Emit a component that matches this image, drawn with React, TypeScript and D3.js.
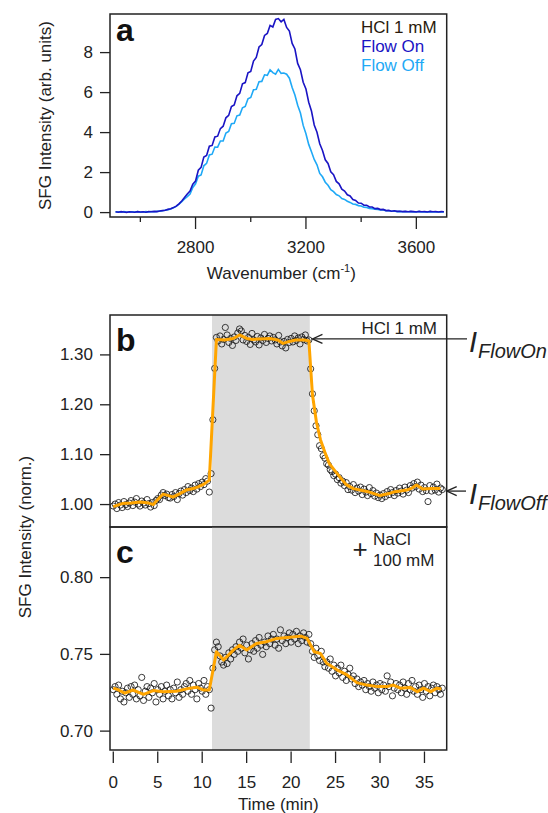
import React from 'react';
import * as d3 from 'd3';

// ---------- Panel a: SFG spectra ----------
const waveStart = 2510;
const waveStep = 10;
const flowOn = [
  0.04, 0.02, 0.05, 0.03, 0.01, 0.04, 0.03, 0.02, 0.05, 0.03,
  0.04, 0.02, 0.05, 0.04, 0.06, 0.05, 0.08, 0.10, 0.12, 0.16,
  0.19, 0.25, 0.32, 0.44, 0.58, 0.76, 0.93, 1.08, 1.42, 1.58,
  2.12, 2.26, 2.78, 2.86, 3.32, 3.36, 3.78, 3.82, 4.20, 4.32,
  4.74, 4.86, 5.30, 5.38, 5.84, 5.96, 6.44, 6.50, 6.99, 7.06,
  7.58, 7.76, 8.28, 8.40, 8.86, 8.96, 9.36, 9.28, 9.66, 9.70,
  9.54, 9.66, 9.26, 9.08, 8.46, 8.18, 7.46, 7.14, 6.52, 6.18,
  5.52, 5.08, 4.38, 4.02, 3.44, 3.11, 2.64, 2.46, 2.04, 1.90,
  1.56, 1.44, 1.17, 1.08, 0.89, 0.83, 0.65, 0.61, 0.48, 0.47,
  0.37, 0.37, 0.28, 0.28, 0.20, 0.21, 0.15, 0.16, 0.10, 0.11,
  0.07, 0.09, 0.06, 0.07, 0.05, 0.06, 0.04, 0.06, 0.05, 0.03,
  0.06, 0.04, 0.05, 0.03, 0.06, 0.04, 0.05, 0.03, 0.05, 0.04,
];
const flowOff = [
  0.03, 0.04, 0.02, 0.05, 0.03, 0.02, 0.04, 0.03, 0.05, 0.02,
  0.03, 0.05, 0.03, 0.05, 0.04, 0.06, 0.07, 0.09, 0.12, 0.15,
  0.18, 0.24, 0.31, 0.42, 0.55, 0.68, 0.80, 0.93, 1.26, 1.44,
  1.82, 1.88, 2.34, 2.46, 2.88, 2.92, 3.28, 3.27, 3.58, 3.58,
  3.98, 4.06, 4.44, 4.46, 4.84, 4.88, 5.24, 5.31, 5.69, 5.76,
  6.14, 6.16, 6.54, 6.56, 6.89, 6.86, 7.14, 7.00, 6.92, 7.16,
  6.96, 6.98, 6.92, 6.72, 6.26, 5.88, 5.37, 4.98, 4.36, 3.94,
  3.41, 3.04, 2.66, 2.39, 1.96, 1.79, 1.52, 1.37, 1.15, 1.05,
  0.90, 0.84, 0.70, 0.66, 0.57, 0.51, 0.43, 0.41, 0.35, 0.33,
  0.27, 0.26, 0.21, 0.20, 0.17, 0.16, 0.13, 0.13, 0.10, 0.09,
  0.07, 0.08, 0.05, 0.06, 0.04, 0.05, 0.04, 0.05, 0.03, 0.04,
  0.05, 0.03, 0.04, 0.03, 0.05, 0.03, 0.04, 0.03, 0.04, 0.03,
];
const aYTicks = [0, 2, 4, 6, 8];
const aXMajor = [2800, 3200, 3600];
const aXMinor = [2600, 3000, 3400];
const legendLabels = ['HCl 1 mM', 'Flow On', 'Flow Off'];

// ---------- Panels b, c: time traces ----------
const timeStep = 0.2; // min, sampling grid
const flowBand = [11.1, 22.1];
const scatterB = [
  0.997, 1.001, 0.992, 1.004, 0.999, 0.994, 1.006, 1.000, 0.996, 1.003,
  1.008, 0.998, 1.005, 1.012, 1.001, 0.997, 1.007, 1.003, 0.999, 1.010,
  1.002, 0.995, 1.004, 0.998, 1.008, 1.012, 1.010, 1.019, 1.024, 1.018,
  1.021, 1.014, 1.013, 1.020, 1.016, 1.024, 1.010, 1.022, 1.027, 1.019,
  1.030, 1.024, 1.036, 1.028, 1.033, 1.026, 1.039, 1.031, 1.042, 1.036,
  1.045, 1.040, 1.052, 1.047, 1.025, 1.062, 1.170, 1.273, 1.335, 1.328,
  1.338, 1.322, 1.331, 1.355, 1.340, 1.325, 1.333, 1.319, 1.336, 1.329,
  1.344, 1.352, 1.348, 1.330, 1.339, 1.327, 1.335, 1.321, 1.343, 1.330,
  1.326, 1.337, 1.320, 1.334, 1.329, 1.341, 1.325, 1.333, 1.338, 1.328,
  1.335, 1.330, 1.322, 1.339, 1.326, 1.318, 1.327, 1.314, 1.331, 1.325,
  1.333, 1.326, 1.338, 1.329, 1.334, 1.322, 1.336, 1.331, 1.340, 1.328,
  1.330, 1.272, 1.222, 1.188, 1.158, 1.140, 1.118, 1.112, 1.098, 1.093,
  1.082, 1.079, 1.070, 1.066, 1.058, 1.061, 1.050, 1.054, 1.043, 1.047,
  1.038, 1.044, 1.030, 1.036, 1.029, 1.040, 1.024, 1.033, 1.027, 1.035,
  1.020, 1.031, 1.025, 1.018, 1.034, 1.022, 1.028, 1.017, 1.023, 1.014,
  1.019, 1.012, 1.022, 1.016, 1.026, 1.020, 1.030, 1.024, 1.018, 1.028,
  1.023, 1.033, 1.027, 1.021, 1.035, 1.029, 1.024, 1.038, 1.033, 1.042,
  1.036, 1.045, 1.031, 1.039, 1.026, 1.034, 1.028, 1.006, 1.038, 1.027,
  1.035, 1.029, 1.041, 1.025, 1.033, 1.030,
];
const smoothTimeB = [
  0, 0.5, 1, 2, 3, 4, 4.5, 5, 5.6, 6.2, 6.7, 7.5, 8.2, 9, 9.6, 10.2, 10.8, 11.6, 12.5, 13.5,
  14.2, 15, 15.7, 16.5, 17.6, 18.5, 19.1, 19.8, 20.5, 21.5, 22.0, 22.4, 22.85, 23.3, 23.8, 24.3, 25, 25.5, 26.2, 27,
  28, 28.8, 30, 31, 31.5, 32.3, 33, 33.6, 34.1, 34.8, 35.8, 36.8,
];
const smoothB = [
  0.996, 0.999, 1.002, 1.003, 1.005, 1.003, 1.000, 1.010, 1.021, 1.018, 1.015, 1.022, 1.029, 1.032, 1.036, 1.041, 1.049, 1.331, 1.330, 1.333,
  1.340, 1.333, 1.331, 1.332, 1.333, 1.330, 1.323, 1.327, 1.330, 1.330, 1.328, 1.220, 1.165, 1.130, 1.105, 1.082, 1.066, 1.055, 1.040, 1.032,
  1.028, 1.025, 1.018, 1.022, 1.025, 1.027, 1.029, 1.033, 1.039, 1.031, 1.032, 1.032,
];
const scatterC = [
  0.727, 0.729, 0.724, 0.730, 0.721, 0.726, 0.719, 0.725, 0.728, 0.722,
  0.729, 0.724, 0.730, 0.721, 0.727, 0.723, 0.735, 0.720, 0.726, 0.729,
  0.722, 0.728, 0.725, 0.731, 0.719, 0.727, 0.724, 0.729, 0.721, 0.726,
  0.730, 0.723, 0.727, 0.721, 0.728, 0.725, 0.732, 0.722, 0.727, 0.724,
  0.729, 0.731, 0.726, 0.733, 0.724, 0.730, 0.727, 0.721, 0.731, 0.728,
  0.726, 0.733, 0.724, 0.729, 0.727, 0.715, 0.741, 0.753, 0.758, 0.755,
  0.749, 0.745, 0.743, 0.748, 0.744, 0.751, 0.747, 0.753, 0.750, 0.755,
  0.752, 0.758, 0.754, 0.760, 0.751, 0.756, 0.747, 0.753, 0.757, 0.752,
  0.759, 0.754, 0.761, 0.756, 0.750, 0.758, 0.755, 0.762, 0.757, 0.760,
  0.763, 0.756, 0.760, 0.754, 0.766, 0.759, 0.762, 0.757, 0.761, 0.764,
  0.758, 0.763, 0.760, 0.765, 0.757, 0.762, 0.759, 0.764, 0.761, 0.758,
  0.763, 0.757, 0.752, 0.748, 0.754, 0.749, 0.746, 0.752, 0.745, 0.742,
  0.745, 0.741, 0.747, 0.739, 0.743, 0.736, 0.741, 0.738, 0.743, 0.735,
  0.739, 0.733, 0.737, 0.741, 0.734, 0.736, 0.731, 0.734, 0.729, 0.732,
  0.730, 0.733, 0.727, 0.731, 0.729, 0.726, 0.732, 0.728, 0.730, 0.725,
  0.731, 0.727, 0.730, 0.726, 0.736, 0.729, 0.732, 0.723, 0.728, 0.731,
  0.727, 0.730, 0.725, 0.732, 0.728, 0.724, 0.731, 0.727, 0.733, 0.726,
  0.729, 0.724, 0.730, 0.727, 0.722, 0.731, 0.726, 0.729, 0.723, 0.728,
  0.730, 0.725, 0.729, 0.727, 0.724, 0.728,
];
const smoothTimeC = [
  0, 0.5, 1.3, 2.2, 3.4, 4.5, 5.6, 7.1, 8.6, 9.4, 10.1, 10.8, 11.6, 12.4, 13.5, 14.2, 15, 16.1, 17.2, 18.4,
  19.6, 21.1, 21.8, 22.6, 23.3, 24, 25.2, 26.3, 27.4, 28.5, 29.7, 30.8, 31.5, 32.3, 33.4, 34.2, 34.9, 35.7, 36.4, 36.9,
];
const smoothC = [
  0.728, 0.727, 0.7247, 0.7268, 0.724, 0.7264, 0.7257, 0.726, 0.728, 0.7286, 0.7268, 0.7268, 0.7517, 0.7463, 0.7528, 0.756, 0.7528, 0.7571, 0.7582, 0.7604,
  0.761, 0.7619, 0.7604, 0.7517, 0.7506, 0.7442, 0.7398, 0.7366, 0.7316, 0.730, 0.729, 0.729, 0.730, 0.728, 0.7285, 0.7257, 0.728, 0.7257, 0.728, 0.7275,
];
const bYTicks = [1.0, 1.1, 1.2, 1.3];
const cYTicks = [0.7, 0.75, 0.8];
const timeTicks = [0, 5, 10, 15, 20, 25, 30, 35];
const levelOn = 1.332;
const levelOff = 1.027;

const FONT = '"Liberation Sans", Arial, Helvetica, sans-serif';
const DARK_BLUE = '#1a14c4';
const LIGHT_BLUE = '#1fa9f6';
const ORANGE = '#ffa500';
const GRAY = '#dcdcdc';

export default function App() {
  // panel a scales
  const xA = d3.scaleLinear().domain([2490, 3710]).range([110, 446.7]);
  const yA = d3.scaleLinear().domain([-0.22, 9.93]).range([217, 14]);
  // time scales
  const xT = d3.scaleLinear().domain([-0.37, 37.5]).range([110, 446.7]);
  const yB = d3.scaleLinear().domain([0.955, 1.38]).range([527, 315]);
  const yC = d3.scaleLinear().domain([0.6877, 0.833]).range([750, 527]);

  const wave = (i: number) => waveStart + i * waveStep;
  const specLine = d3
    .line<number>()
    .x((_, i) => xA(wave(i)))
    .y((d) => yA(d));

  const lineB = d3
    .line<number>()
    .x((_, i) => xT(smoothTimeB[i]))
    .y((d) => yB(d));
  const lineC = d3
    .line<number>()
    .x((_, i) => xT(smoothTimeC[i]))
    .y((d) => yC(d));

  const [aL, aR] = xA.range();
  const [aB, aT] = yA.range();
  const [tL, tR] = xT.range();
  const [bB, bT] = yB.range();
  const [cB, cT] = yC.range();

  const txt = { fontFamily: FONT, fontSize: 17, fill: '#222' } as const;

  const arrowHead = (x: number, y: number) =>
    `M${x + 10},${y - 4.5}L${x},${y}L${x + 10},${y + 4.5}`;

  return (
    <svg
      width={548}
      height={813}
      style={{ position: 'absolute', left: 0, top: 0, background: '#fff' }}
    >
      <defs>
        <clipPath id="clipA">
          <rect x={aL} y={aT} width={aR - aL} height={aB - aT} />
        </clipPath>
        <clipPath id="clipB">
          <rect x={tL} y={bT} width={tR - tL} height={bB - bT} />
        </clipPath>
        <clipPath id="clipC">
          <rect x={tL} y={cT} width={tR - tL} height={cB - cT} />
        </clipPath>
      </defs>

      {/* ---------- Panel a ---------- */}
      <g clipPath="url(#clipA)">
        <path d={specLine(flowOff) || ''} fill="none" stroke={LIGHT_BLUE} strokeWidth={1.6} />
        <path d={specLine(flowOn) || ''} fill="none" stroke={DARK_BLUE} strokeWidth={1.6} />
      </g>
      <rect x={aL} y={aT} width={aR - aL} height={aB - aT} fill="none" stroke="#222" strokeWidth={1.5} />
      {aYTicks.map((t) => (
        <g key={'ay' + t}>
          <line x1={aL - 10} x2={aL} y1={yA(t)} y2={yA(t)} stroke="#222" strokeWidth={1.3} />
          <text {...txt} x={aL - 17} y={yA(t)} textAnchor="end" dominantBaseline="central">
            {t}
          </text>
        </g>
      ))}
      {aXMajor.map((t) => (
        <g key={'axM' + t}>
          <line x1={xA(t)} x2={xA(t)} y1={aB} y2={aB + 12} stroke="#222" strokeWidth={1.3} />
          <text {...txt} x={xA(t)} y={253} textAnchor="middle">
            {t}
          </text>
        </g>
      ))}
      {aXMinor.map((t) => (
        <line key={'axm' + t} x1={xA(t)} x2={xA(t)} y1={aB} y2={aB + 5} stroke="#222" strokeWidth={1.3} />
      ))}
      <text {...txt} x={(aL + aR) / 2 + 3} y={279} textAnchor="middle">
        Wavenumber (cm
        <tspan fontSize={11} dy={-7}>-1</tspan>
        <tspan dy={7}>)</tspan>
      </text>
      <text
        {...txt}
        transform={`translate(51,${(aT + aB) / 2}) rotate(-90)`}
        textAnchor="middle"
      >
        SFG Intensity (arb. units)
      </text>
      <text x={aL + 6} y={aT + 27} fontFamily={FONT} fontWeight="bold" fontSize={32} fill="#111">
        a
      </text>
      {legendLabels.map((l, i) => (
        <text
          key={l}
          {...txt}
          x={361}
          y={33 + i * 19}
          fill={i === 0 ? '#2a1a0c' : i === 1 ? DARK_BLUE : LIGHT_BLUE}
        >
          {l}
        </text>
      ))}

      {/* ---------- Panel b ---------- */}
      <rect x={xT(flowBand[0])} y={bT} width={xT(flowBand[1]) - xT(flowBand[0])} height={bB - bT} fill={GRAY} />
      <g clipPath="url(#clipB)">
        {scatterB.map((v, i) => (
          <circle key={'b' + i} cx={xT(i * timeStep)} cy={yB(v)} r={3.1} fill="none" stroke="#1a1a1a" strokeWidth={0.85} />
        ))}
        <path d={lineB(smoothB) || ''} fill="none" stroke={ORANGE} strokeWidth={3} strokeLinejoin="round" />
      </g>
      <rect x={tL} y={bT} width={tR - tL} height={bB - bT} fill="none" stroke="#222" strokeWidth={1.5} />
      {bYTicks.map((t) => (
        <g key={'by' + t}>
          <line x1={tL - 10} x2={tL} y1={yB(t)} y2={yB(t)} stroke="#222" strokeWidth={1.3} />
          <text {...txt} x={tL - 17} y={yB(t)} textAnchor="end" dominantBaseline="central">
            {t.toFixed(2)}
          </text>
        </g>
      ))}
      <text x={tL + 6} y={bT + 36} fontFamily={FONT} fontWeight="bold" fontSize={32} fill="#111">
        b
      </text>
      <text {...txt} x={437} y={334} textAnchor="end">
        HCl 1 mM
      </text>

      {/* ---------- Panel c ---------- */}
      <rect x={xT(flowBand[0])} y={cT} width={xT(flowBand[1]) - xT(flowBand[0])} height={cB - cT} fill={GRAY} />
      <g clipPath="url(#clipC)">
        {scatterC.map((v, i) => (
          <circle key={'c' + i} cx={xT(i * timeStep)} cy={yC(v)} r={3.1} fill="none" stroke="#1a1a1a" strokeWidth={0.85} />
        ))}
        <path d={lineC(smoothC) || ''} fill="none" stroke={ORANGE} strokeWidth={3} strokeLinejoin="round" />
      </g>
      <rect x={tL} y={cT} width={tR - tL} height={cB - cT} fill="none" stroke="#222" strokeWidth={1.5} />
      {cYTicks.map((t) => (
        <g key={'cy' + t}>
          <line x1={tL - 10} x2={tL} y1={yC(t)} y2={yC(t)} stroke="#222" strokeWidth={1.3} />
          <text {...txt} x={tL - 17} y={yC(t)} textAnchor="end" dominantBaseline="central">
            {t.toFixed(2)}
          </text>
        </g>
      ))}
      {timeTicks.map((t) => (
        <g key={'tx' + t}>
          <line x1={xT(t)} x2={xT(t)} y1={cB + 1.5} y2={cB + 13} stroke="#222" strokeWidth={1.3} />
          <text {...txt} x={xT(t)} y={788} textAnchor="middle">
            {t}
          </text>
        </g>
      ))}
      <text {...txt} x={(tL + tR) / 2} y={810} textAnchor="middle">
        Time (min)
      </text>
      <text x={tL + 6} y={cT + 36} fontFamily={FONT} fontWeight="bold" fontSize={32} fill="#111">
        c
      </text>
      <text x={360} y={558} fontFamily={FONT} fontSize={26} fill="#222" textAnchor="middle">
        +
      </text>
      <text {...txt} x={373} y={545}>
        NaCl
      </text>
      <text {...txt} x={373} y={566}>
        100 mM
      </text>

      {/* shared y title */}
      <text
        {...txt}
        transform={`translate(31,537) rotate(-90)`}
        textAnchor="middle"
      >
        SFG Intensity (norm.)
      </text>

      {/* ---------- Level annotations ---------- */}
      <line x1={xT(22.4)} x2={467} y1={yB(levelOn)} y2={yB(levelOn)} stroke="#222" strokeWidth={1.3} />
      <path d={arrowHead(xT(22.4), yB(levelOn))} fill="none" stroke="#222" strokeWidth={1.3} />
      <text x={469} y={352} fontFamily={FONT} fontStyle="italic" fontSize={29} fill="#222">
        I
      </text>
      <text x={478} y={358} fontFamily={FONT} fontStyle="italic" fontSize={20} fill="#222">
        FlowOn
      </text>

      <line x1={tR} x2={466} y1={yB(levelOff)} y2={yB(levelOff)} stroke="#222" strokeWidth={1.3} />
      <path d={arrowHead(tR, yB(levelOff))} fill="none" stroke="#222" strokeWidth={1.3} />
      <text x={469} y={504} fontFamily={FONT} fontStyle="italic" fontSize={29} fill="#222">
        I
      </text>
      <text x={478} y={510} fontFamily={FONT} fontStyle="italic" fontSize={20} fill="#222">
        FlowOff
      </text>
    </svg>
  );
}
